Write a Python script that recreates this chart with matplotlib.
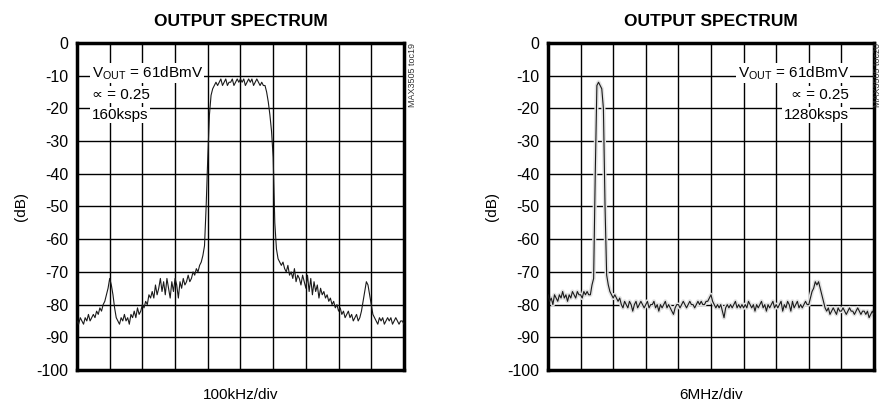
import matplotlib
matplotlib.use("Agg")

import numpy as np
import matplotlib.pyplot as plt
from matplotlib import font_manager

# spectrum levels (dB), sampled every 0.05 div from 0 to 10 div
left_level = [
    -85, -86, -84, -85, -86, -84, -85, -83, -85, -84, -83, -84, -82, -83, -81, -82, -80, -79, -77, -75,
    -72, -74, -77, -81, -84, -85, -86, -84, -85, -83, -85, -84, -86, -83, -84, -82, -84, -81, -83, -82,
    -80, -81, -79, -80, -77, -78, -76, -78, -74, -77, -75, -72, -76, -73, -77, -72, -75, -78, -73, -76,
    -72, -74, -78, -73, -75, -72, -74, -73, -71, -73, -72, -70, -71, -69, -70, -68, -67, -65, -62, -50,
    -35, -22, -16, -14, -13, -12, -13, -12, -11, -13, -12, -11, -13, -12, -12, -11, -13, -12, -11, -12,
    -11, -12, -11, -13, -12, -11, -12, -11, -13, -12, -11, -12, -13, -12, -13, -13, -15, -18, -22, -27,
    -35, -55, -63, -66, -67, -68, -67, -69, -70, -68, -71, -70, -72, -69, -73, -71, -72, -74, -71, -73,
    -75, -71, -76, -72, -77, -73, -76, -74, -78, -75, -77, -76, -78, -77, -79, -78, -80, -79, -81, -80,
    -82, -81, -83, -82, -84, -83, -82, -84, -83, -85, -84, -83, -85, -84, -82, -79, -76, -73, -74, -77,
    -80, -83, -84, -85, -86, -84, -85, -84, -86, -85, -84, -85, -84, -86, -85, -84, -85, -86, -85, -85,
    -86,
]

right_level = [
    -77, -79, -78, -80, -77, -78, -79, -77, -78, -76, -78, -77, -79, -77, -78, -76, -77, -78, -76, -77,
    -77, -78, -76, -77, -76, -77, -77, -74, -72, -40, -13, -12, -13, -14, -20, -50, -71, -74, -76, -77,
    -78, -77, -78, -79, -78, -80, -81, -79, -80, -81, -79, -80, -82, -80, -79, -81, -80, -79, -80, -81,
    -80, -79, -81, -80, -80, -79, -81, -80, -82, -80, -81, -80, -79, -81, -80, -81, -82, -83, -81, -80,
    -80, -81, -80, -79, -80, -81, -80, -79, -80, -80, -81, -80, -79, -80, -79, -80, -80, -79, -79, -78,
    -77, -79, -80, -81, -80, -81, -80, -82, -84, -81, -80, -81, -80, -81, -80, -79, -81, -80, -81, -80,
    -81, -80, -81, -79, -80, -81, -80, -82, -80, -81, -80, -79, -81, -80, -82, -80, -81, -80, -79, -81,
    -80, -81, -80, -79, -82, -80, -81, -79, -80, -82, -79, -81, -80, -79, -81, -80, -81, -80, -79, -80,
    -80, -78, -76, -75, -73, -74, -73, -75, -77, -79, -81, -82, -81, -83, -82, -81, -82, -83, -81, -82,
    -82, -81, -82, -83, -82, -81, -82, -82, -83, -82, -81, -82, -83, -82, -82, -83, -82, -84, -83, -82,
    -83,
]

y_ticks = [0, -10, -20, -30, -40, -50, -60, -70, -80, -90, -100]
left_notes = ["V$_{\\mathregular{OUT}}$ = 61dBmV", "\u221d = 0.25", "160ksps"]
right_notes = ["V$_{\\mathregular{OUT}}$ = 61dBmV", "\u221d = 0.25", "1280ksps"]

installed = {f.name for f in font_manager.fontManager.ttflist}
narrow = "Liberation Sans Narrow" if "Liberation Sans Narrow" in installed else "Liberation Sans"
plt.rcParams["font.family"] = [narrow, "DejaVu Sans"]
plt.rcParams["mathtext.fontset"] = "custom"
plt.rcParams["mathtext.rm"] = narrow


def draw_panel(ax, levels, notes, xlabel, tag, right_side, smear=False):
    x = np.linspace(0, 10, len(levels))
    if smear:
        ax.plot(x, levels, color="#e2e2e2", lw=3, zorder=2)
    ax.plot(x, levels, color="#1a1a1a", lw=0.8, zorder=3)

    ax.set_xlim(0, 10)
    ax.set_ylim(-100, 0)
    ax.set_xticks(np.arange(0, 11, 1))
    ax.set_yticks(y_ticks)
    ax.set_xticklabels([])
    ax.set_yticklabels([str(v) for v in y_ticks], fontsize=11.5)
    ax.tick_params(length=0, pad=6)
    ax.grid(True, color="black", lw=1.0)
    ax.set_axisbelow(True)
    for sp in ax.spines.values():
        sp.set_linewidth(2.5)

    ax.set_title("OUTPUT SPECTRUM", fontsize=12.5, fontweight="bold", pad=12)
    ax.set_xlabel(xlabel, fontsize=11, labelpad=7)
    ax.set_ylabel("(dB)", fontsize=11, labelpad=6)

    ys = [0.908, 0.842, 0.780]
    for y, s in zip(ys, notes):
        if right_side:
            ax.text(0.923, y, s, transform=ax.transAxes, ha="right", va="center",
                    fontsize=11, zorder=4,
                    bbox=dict(facecolor="white", edgecolor="none", pad=1))
        else:
            ax.text(0.045, y, s, transform=ax.transAxes, ha="left", va="center",
                    fontsize=11, zorder=4,
                    bbox=dict(facecolor="white", edgecolor="none", pad=1))

    ax.text(tag[1], 1.0, tag[0], transform=ax.transAxes, rotation=90,
            ha="center", va="top", fontsize=6.5, color="#333333")


fig = plt.figure(figsize=(8.82, 4.03), dpi=100)
ax1 = fig.add_axes([0.0873, 0.0819, 0.3707, 0.8114])
ax2 = fig.add_axes([0.6213, 0.0819, 0.3696, 0.8114])

draw_panel(ax1, left_level, left_notes, "100kHz/div", ("MAX3505 toc19", 1.025), False)
draw_panel(ax2, right_level, right_notes, "6MHz/div", ("MAX3505 toc20", 1.012), True, smear=True)

fig.savefig("out.png", dpi=100, facecolor="white")
